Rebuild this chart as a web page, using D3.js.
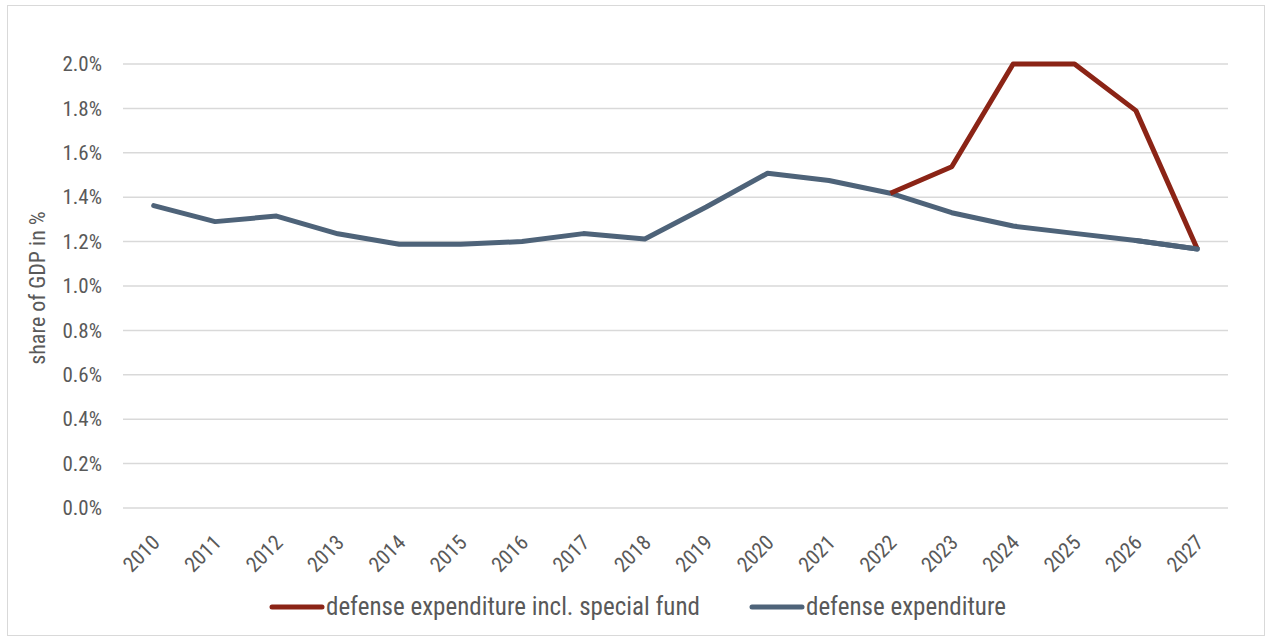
<!DOCTYPE html>
<html><head><meta charset="utf-8">
<script src="https://cdn.jsdelivr.net/npm/d3@7"></script>
<style>
body{margin:0;background:#fff;}
text{font-family:"Liberation Sans Narrow","Roboto Condensed",Roboto,sans-serif;fill:#595959;}
</style></head>
<body><svg id="c" width="1270" height="639"></svg>
<script>
const years = ["2010","2011","2012","2013","2014","2015","2016","2017","2018","2019","2020","2021","2022","2023","2024","2025","2026","2027"];
const defenseExp = [1.362,1.290,1.315,1.235,1.188,1.188,1.200,1.236,1.212,1.356,1.508,1.475,1.418,1.330,1.270,1.237,1.205,1.167];
const specialYears = ["2022","2023","2024","2025","2026","2027"];
const specialFund = [1.418,1.537,2.0,2.0,1.790,1.167];
const yTicks = [0,0.2,0.4,0.6,0.8,1.0,1.2,1.4,1.6,1.8,2.0];
const seriesNames = ["defense expenditure incl. special fund","defense expenditure"];
const colors = ["#8b2416","#4e6379"];

const svg = d3.select("#c");
svg.append("rect").attr("x",7.5).attr("y",5.5).attr("width",1257).attr("height",630)
  .attr("fill","#fff").attr("stroke","#d9d9d9").attr("stroke-width",1);

const pL=123, pR=1228, pT=64, pB=508;
const x = d3.scalePoint().domain(years).range([pL,pR]).padding(0.5);
const y = d3.scaleLinear().domain([0,2.0]).range([pB,pT]);

const grid = svg.append("g");
grid.selectAll("line").data(yTicks).join("line")
  .attr("x1",pL).attr("x2",pR)
  .attr("y1",d=>y(d)).attr("y2",d=>y(d))
  .attr("stroke","#d9d9d9").attr("stroke-width",1.5);

const ff = "'Liberation Sans Narrow','Roboto Condensed',Roboto,sans-serif";
const yAxis = svg.append("g").attr("transform",`translate(${pL},0)`)
  .call(d3.axisLeft(y).tickValues(yTicks).tickFormat(d=>d.toFixed(1)+"%").tickSize(0).tickPadding(21));
yAxis.select(".domain").remove();
yAxis.selectAll("text").attr("font-size",21).style("fill","#595959").style("font-family",ff);

const xAxis = svg.append("g").attr("transform",`translate(0,${pB})`)
  .call(d3.axisBottom(x).tickSize(0));
xAxis.select(".domain").remove();
xAxis.selectAll("text").attr("font-size",21).style("fill","#595959").style("font-family",ff)
  .attr("text-anchor","end").attr("dy",0).attr("y",0).attr("x",0)
  .attr("transform","translate(7,36) rotate(-45)");

svg.append("text").attr("transform","translate(45,288) rotate(-90)")
  .attr("text-anchor","middle").attr("font-size",22).text("share of GDP in %");

const line = d3.line().x(d=>x(d[0])).y(d=>y(d[1]));
svg.append("path").datum(years.map((yr,i)=>[yr,defenseExp[i]]))
  .attr("d",line).attr("fill","none").attr("stroke",colors[1]).attr("stroke-width",5)
  .attr("stroke-linejoin","round").attr("stroke-linecap","round");
svg.append("path").datum(specialYears.map((yr,i)=>[yr,specialFund[i]]))
  .attr("d",line).attr("fill","none").attr("stroke",colors[0]).attr("stroke-width",5)
  .attr("stroke-linejoin","round").attr("stroke-linecap","butt");
svg.append("path").datum(years.slice(16).map((yr,i)=>[yr,defenseExp[16+i]]))
  .attr("d",line).attr("fill","none").attr("stroke",colors[1]).attr("stroke-width",5)
  .attr("stroke-linecap","round");

const legX=[272,752];
const leg = svg.append("g");
seriesNames.forEach((n,i)=>{
  leg.append("line").attr("x1",legX[i]).attr("x2",legX[i]+50).attr("y1",607).attr("y2",607)
    .attr("stroke",colors[i]).attr("stroke-width",5).attr("stroke-linecap","round");
  leg.append("text").attr("x",legX[i]+54).attr("y",615).attr("font-size",25).text(n);
});
</script></body></html>
